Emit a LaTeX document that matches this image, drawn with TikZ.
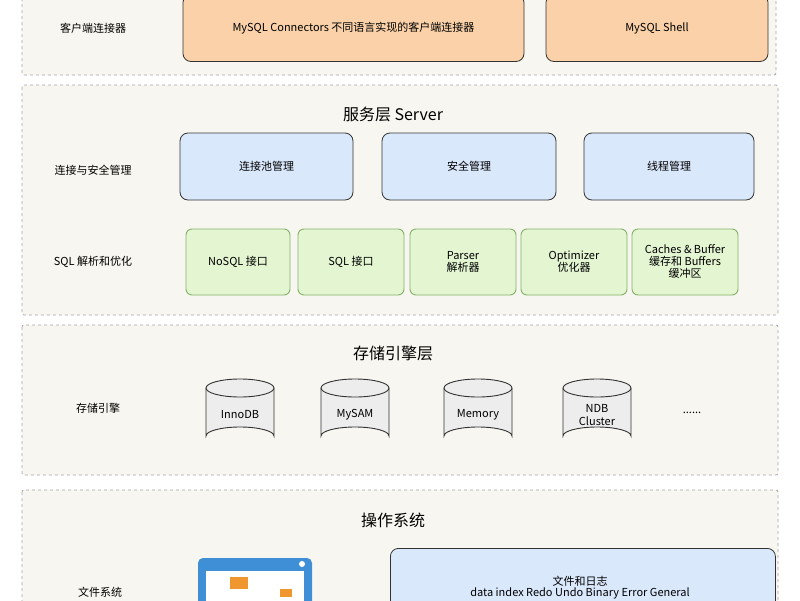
\documentclass[tikz,border=0pt]{standalone}
\usepackage{fontspec}
\setmainfont{Noto Sans CJK SC}
\begin{document}
\begin{tikzpicture}[x=1pt,y=-1pt,
 layer/.style={draw=gray!70,dashed,fill=layerbg,line width=0.8pt,rounded corners=2pt},
 obox/.style={draw=black!80,fill=orbox,rounded corners=8pt,line width=0.8pt,align=center,font=\fontsize{11}{13}\selectfont},
 bbox/.style={draw=black!80,fill=blbox,rounded corners=8pt,line width=0.8pt,align=center,font=\fontsize{11}{13}\selectfont},
 gbox/.style={draw=grborder,fill=grbox,rounded corners=6pt,line width=0.9pt,align=center,font=\fontsize{11}{12}\selectfont},
 lbl/.style={font=\fontsize{11}{13}\selectfont},
 ttl/.style={font=\fontsize{16}{18}\selectfont},
 cyl/.style={draw=black!80,fill=cylfill,line width=0.9pt}]
\definecolor{layerbg}{HTML}{F8F6F0}
\definecolor{orbox}{HTML}{FAD1A8}
\definecolor{blbox}{HTML}{DAE8FC}
\definecolor{grbox}{HTML}{E4F5D2}
\definecolor{grborder}{HTML}{82B366}
\definecolor{cylfill}{HTML}{EDEDED}
\definecolor{winblue}{HTML}{3F8FD6}
\definecolor{folder}{HTML}{F0962F}
\useasboundingbox (0,0) rectangle (800,600);
\fill[white] (0,0) rectangle (800,600);
% layers
\draw[layer] (22,-10) rectangle (776,75);
\draw[layer] (22,85) rectangle (778,315);
\draw[layer] (22,325) rectangle (778,475);
\draw[layer] (22,490) rectangle (778,610);
% layer 1
\node[lbl] (l1) at (93,28) {客户端连接器};
\node[obox,minimum width=341pt,minimum height=67pt] (c1) at (353.5,28) {MySQL Connectors 不同语言实现的客户端连接器};
\node[obox,minimum width=222pt,minimum height=67pt] (c2) at (657,28) {MySQL Shell};
% layer 2
\node[ttl] (t2) at (393,114) {服务层 Server};
\node[lbl] (l2) at (93,170) {连接与安全管理};
\node[bbox,minimum width=173pt,minimum height=67pt] (b1) at (266.5,166.5) {连接池管理};
\node[bbox,minimum width=174pt,minimum height=67pt] (b2) at (469,166.5) {安全管理};
\node[bbox,minimum width=170pt,minimum height=67pt] (b3) at (669,166.5) {线程管理};
\node[lbl] (l3) at (93,262) {SQL 解析和优化};
\node[gbox,minimum width=104pt,minimum height=66pt] (g1) at (238,262) {NoSQL 接口};
\node[gbox,minimum width=106pt,minimum height=66pt] (g2) at (351,262) {SQL 接口};
\node[gbox,minimum width=106pt,minimum height=66pt] (g3) at (463,262) {Parser\\解析器};
\node[gbox,minimum width=106pt,minimum height=66pt] (g4) at (574,262) {Optimizer\\优化器};
\node[gbox,minimum width=106pt,minimum height=66pt,inner sep=1pt] (g5) at (685,262) {Caches \& Buffer\\缓存和 Buffers\\缓冲区};
% layer 3
\node[ttl] (t3) at (393,353) {存储引擎层};
\node[lbl] (l4) at (98,408) {存储引擎};
\foreach \cx/\nm/\tx in {240/d1/InnoDB,355/d2/MySAM,478/d3/Memory,597/d4/{NDB\\Cluster}}{
  \draw[cyl] (\cx-34,388) -- (\cx-34,436) arc[start angle=180,end angle=360,x radius=34,y radius=9] -- (\cx+34,388);
  \draw[cyl] (\cx,388) ellipse[x radius=34,y radius=9];
  \node[lbl,align=center] (\nm) at (\cx,415) {\tx};
}
\node[lbl] (dots) at (692,413) {......};
% layer 4
\node[ttl] (t4) at (393,520) {操作系统};
\node[lbl] (l5) at (100,592) {文件系统};
\fill[winblue,rounded corners=5pt] (198,558) rectangle (312,610);
\fill[white] (206,571) rectangle (304,610);
\fill[white] (302,564) circle (3);
\fill[folder] (230,577) rectangle (248,589);
\fill[folder] (280,589) rectangle (292,597);
\node[bbox,minimum width=385pt,minimum height=70pt,anchor=north west,inner sep=0pt] (fs) at (390,548) {};
\node[lbl,align=center] (fst) at (580,588) {文件和日志\\[-2pt]data index Redo Undo Binary Error General};
\end{tikzpicture}
\end{document}
